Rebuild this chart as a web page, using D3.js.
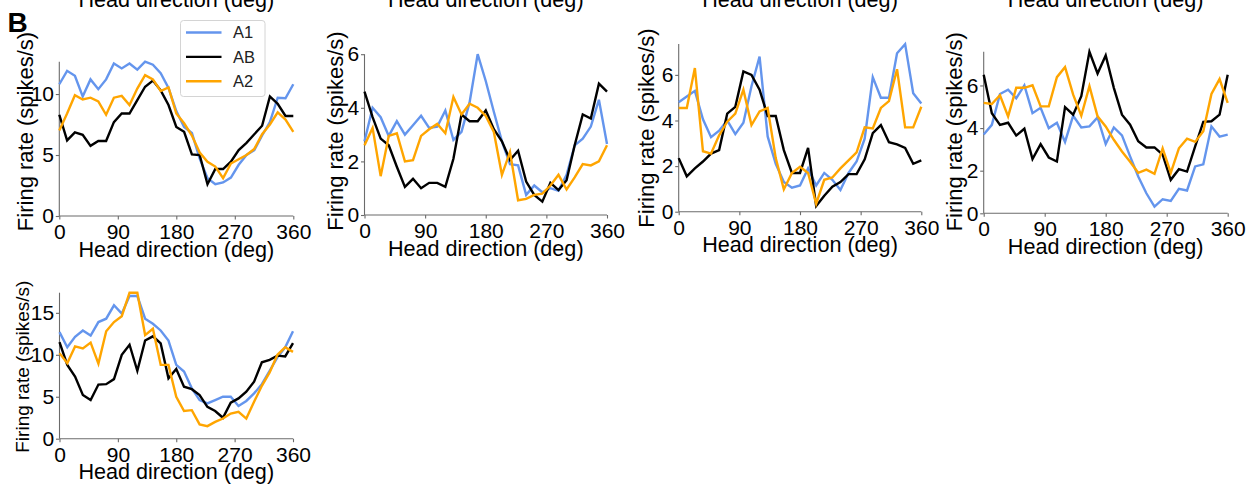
<!DOCTYPE html>
<html>
<head>
<meta charset="utf-8">
<script src="https://cdn.jsdelivr.net/npm/d3@7"></script>
<style>
  html, body { margin: 0; padding: 0; background: #fff; }
  svg { display: block; }
  text { font-family: "Liberation Sans", Arial, Helvetica, sans-serif; fill: #000; }
</style>
</head>
<body>
<svg id="fig" width="1251" height="487"></svg>
<script>
// Head-direction bins (deg) shared by every tuning curve
const headDirection = [0, 12, 24, 36, 48, 60, 72, 84, 96, 108, 120, 132, 144, 156, 168, 180,
  192, 204, 216, 228, 240, 252, 264, 276, 288, 300, 312, 324, 336, 348, 360];
const xTicks = [0, 90, 180, 270, 360];

const seriesNames = ["A1", "AB", "A2"];
const seriesColors = ["#6495ed", "#000000", "#ffa500"];

// Cell 1 firing rates (spikes/s)
const cell1A1 = [10.8, 11.9, 11.5, 9.8, 11.2, 10.4, 11.2, 12.5, 12.1, 12.5, 12.0, 12.65, 12.4, 11.7, 10.5, 8.6,
  7.3, 6.8, 4.7, 3.1, 2.6, 2.75, 3.15, 4.2, 5.0, 5.4, 6.6, 7.7, 9.7, 9.65, 10.8];
const cell1AB = [8.3, 6.2, 6.85, 6.65, 5.75, 6.15, 6.15, 7.7, 8.4, 8.4, 9.5, 10.6, 11.1, 10.3, 9.1, 7.3,
  6.9, 5.05, 5.0, 2.6, 3.85, 3.85, 4.45, 5.4, 6.0, 6.7, 7.4, 9.8, 9.2, 8.2, 8.2];
const cell1A2 = [7.0, 8.4, 9.9, 9.55, 9.7, 9.4, 8.3, 9.7, 9.85, 9.1, 10.45, 11.55, 11.2, 10.25, 10.55, 8.4,
  7.6, 6.6, 5.2, 4.45, 4.05, 3.1, 4.3, 4.65, 5.0, 5.5, 6.7, 7.5, 8.5, 7.9, 6.9];
const cell1YTicks = [0, 5, 10];

// Cell 2
const cell2A1 = [2.75, 4.0, 3.65, 2.95, 3.5, 3.0, 3.35, 3.7, 3.25, 3.3, 3.9, 2.8, 3.1, 4.2, 6.0, 5.0,
  3.85, 2.75, 1.9, 1.85, 0.75, 1.1, 0.85, 1.0, 0.9, 1.5, 2.6, 2.85, 3.3, 4.3, 2.65];
const cell2AB = [4.6, 3.65, 2.85, 2.6, 1.8, 1.05, 1.35, 1.0, 1.2, 1.2, 1.05, 2.1, 3.75, 3.5, 3.5, 3.9,
  3.2, 2.75, 2.05, 2.4, 1.25, 0.75, 0.5, 1.2, 0.93, 1.3, 2.6, 3.75, 3.6, 4.9, 4.6];
const cell2A2 = [2.6, 3.25, 1.45, 2.95, 3.05, 2.0, 2.05, 2.95, 3.2, 3.4, 3.05, 4.4, 3.75, 4.15, 4.0, 3.7,
  3.1, 1.5, 2.35, 0.55, 0.6, 0.75, 0.8, 1.1, 1.5, 0.95, 1.4, 1.9, 1.85, 2.0, 2.6];
const cell2YTicks = [0, 2, 4, 6];

// Cell 3
const cell3A1 = [4.8, 5.05, 5.3, 4.05, 3.27, 3.55, 4.0, 3.4, 3.9, 5.5, 6.8, 3.3, 2.1, 1.3, 1.05, 1.15,
  1.9, 1.15, 1.7, 1.4, 0.95, 1.7, 2.2, 3.2, 5.9, 5.0, 5.0, 6.95, 7.35, 5.2, 4.75];
const cell3AB = [2.35, 1.55, 1.9, 2.2, 2.55, 2.7, 4.3, 4.6, 6.15, 6.0, 5.35, 4.2, 4.2, 2.7, 1.7, 1.7,
  2.8, 0.25, 0.7, 1.1, 1.3, 1.65, 1.65, 2.3, 3.45, 3.8, 3.05, 2.95, 2.8, 2.1, 2.25];
const cell3A2 = [4.55, 4.55, 6.3, 2.65, 2.55, 3.35, 3.95, 4.3, 5.35, 3.8, 4.4, 4.55, 2.35, 0.98, 1.7, 1.97,
  1.7, 0.35, 1.4, 1.5, 1.9, 2.25, 2.6, 3.7, 3.65, 4.55, 4.85, 6.25, 3.7, 3.7, 4.6];
const cell3YTicks = [0, 2, 4, 6];

// Cell 4
const cell4A1 = [3.7, 4.15, 5.6, 5.8, 5.4, 6.0, 4.7, 4.95, 4.0, 4.25, 3.35, 4.58, 4.03, 4.08, 4.5, 3.25,
  4.03, 3.66, 2.67, 1.73, 0.94, 0.31, 0.66, 0.58, 1.15, 1.07, 2.2, 2.3, 4.08, 3.6, 3.69];
const cell4AB = [6.5, 4.7, 4.15, 4.25, 3.65, 3.97, 2.55, 3.25, 2.62, 2.43, 4.98, 4.63, 5.5, 7.58, 6.56, 7.41,
  5.89, 4.63, 4.16, 3.38, 3.09, 3.09, 2.75, 1.57, 2.07, 1.96, 3.14, 4.29, 4.32, 4.63, 6.5];
const cell4A2 = [5.18, 5.13, 5.54, 4.55, 5.89, 5.89, 6.01, 5.02, 5.02, 6.39, 6.86, 5.57, 4.58, 5.97, 4.55, 4.08,
  3.45, 2.9, 2.42, 1.9, 2.05, 1.85, 3.05, 1.9, 3.05, 3.5, 3.35, 3.85, 5.6, 6.3, 5.18];
const cell4YTicks = [0, 2, 4, 6];

// Cell 5
const cell5A1 = [12.7, 10.9, 12.15, 12.9, 12.3, 13.9, 14.3, 15.9, 14.9, 17.0, 17.0, 14.3, 13.7, 12.9, 11.7, 8.8,
  8.0, 6.0, 4.6, 4.2, 4.6, 5.0, 5.0, 3.9, 4.5, 5.4, 6.5, 8.1, 9.7, 10.9, 12.8];
const cell5AB = [11.5, 8.8, 7.4, 5.2, 4.6, 6.45, 6.5, 7.1, 10.0, 11.2, 8.1, 11.7, 12.2, 11.35, 7.2, 8.3,
  6.2, 5.9, 5.2, 3.8, 3.3, 2.5, 4.3, 4.8, 5.6, 6.8, 9.1, 9.4, 9.9, 9.8, 11.4];
const cell5A2 = [10.2, 9.0, 11.0, 10.75, 11.45, 8.95, 12.8, 13.9, 14.6, 17.4, 17.4, 12.35, 13.1, 8.8, 8.8, 5.0,
  3.3, 3.4, 1.7, 1.5, 2.0, 2.4, 3.0, 3.2, 2.4, 4.4, 6.3, 7.9, 10.0, 10.9, 10.35];
const cell5YTicks = [0, 5, 10, 15];

const axisLabelX = "Head direction (deg)";
const axisLabelY = "Firing rate (spikes/s)";

// Axes boxes (pixels) for the five cells; yLabelX is the baseline of the rotated label
const panels = [
  { series: [cell1A1, cell1AB, cell1A2], yTicks: cell1YTicks, x0: 59.3, x1: 293.3, top: 61.7, bottom: 216, yLabelX: 32.5, yLabelY: 131.5, yLabelFont: 22, legend: true },
  { series: [cell2A1, cell2AB, cell2A2], yTicks: cell2YTicks, x0: 364.5, x1: 607, top: 54.2, bottom: 215, yLabelX: 342.5, yLabelY: 131, yLabelFont: 22 },
  { series: [cell3A1, cell3AB, cell3A2], yTicks: cell3YTicks, x0: 678.7, x1: 921.3, top: 44.1, bottom: 211.7, yLabelX: 653.5, yLabelY: 128, yLabelFont: 22 },
  { series: [cell4A1, cell4AB, cell4A2], yTicks: cell4YTicks, x0: 983.7, x1: 1227.7, top: 51.8, bottom: 213.3, yLabelX: 962, yLabelY: 131.7, yLabelFont: 22 },
  { series: [cell5A1, cell5AB, cell5A2], yTicks: cell5YTicks, x0: 59.5, x1: 293, top: 292.7, bottom: 438.7, yLabelX: 29, yLabelY: 366.7, yLabelFont: 19 }
];

const svg = d3.select("#fig");
const spineColor = "#6b6b6b";
const tickFont = 21;

// Bottom halves of the x labels from the row above, cut by the top edge
panels.slice(0, 4).forEach(p => {
  svg.append("text")
    .attr("x", (p.x0 + p.x1) / 2)
    .attr("y", 6.5)
    .attr("text-anchor", "middle")
    .style("font-size", "21.6px")
    .text(axisLabelX);
});

panels.forEach(p => {
  const allValues = p.series.flat();
  const x = d3.scaleLinear().domain([0, 360]).range([p.x0, p.x1]);
  const y = d3.scaleLinear().domain([0, d3.max(allValues)]).range([p.bottom, p.top]);

  const g = svg.append("g");

  // spines + ticks
  const xAxis = d3.axisBottom(x).tickValues(xTicks).tickSize(3.5).tickPadding(4.5).tickFormat(d3.format("d"));
  const yAxis = d3.axisLeft(y).tickValues(p.yTicks).tickSize(3.5).tickPadding(1.8).tickFormat(d3.format("d"));

  const gx = g.append("g").attr("transform", `translate(0,${p.bottom})`).call(xAxis);
  const gy = g.append("g").attr("transform", `translate(${p.x0},0)`).call(yAxis);
  [gx, gy].forEach(a => {
    a.select(".domain").attr("stroke", spineColor).attr("stroke-width", 1.1);
    a.selectAll(".tick line").attr("stroke", spineColor).attr("stroke-width", 1.1);
    a.selectAll(".tick text").attr("fill", "#000")
      .style("font-size", tickFont + "px")
      .style("font-family", '"Liberation Sans", Arial, sans-serif');
  });
  // left spine stops at the data maximum, no end caps
  gy.select(".domain").attr("d", `M0,${y(0)}V${y.range()[1]}`);
  gx.select(".domain").attr("d", `M${x(0)},0H${x(360)}`);

  // tuning curves
  const line = d3.line().x((d, i) => x(headDirection[i])).y(d => y(d));
  p.series.forEach((s, k) => {
    g.append("path")
      .datum(s)
      .attr("fill", "none")
      .attr("stroke", seriesColors[k])
      .attr("stroke-width", 2.4)
      .attr("stroke-linejoin", "miter")
      .attr("d", line);
  });

  // axis labels
  g.append("text")
    .attr("x", (p.x0 + p.x1) / 2)
    .attr("y", p.bottom + 40.5)
    .attr("text-anchor", "middle")
    .style("font-size", "21.6px")
    .text(axisLabelX);

  g.append("text")
    .attr("transform", `translate(${p.yLabelX},${p.yLabelY}) rotate(-90)`)
    .attr("text-anchor", "middle")
    .style("font-size", p.yLabelFont + "px")
    .text(axisLabelY);

  // legend
  if (p.legend) {
    const lg = g.append("g");
    lg.append("rect")
      .attr("x", 180.5).attr("y", 20.5).attr("width", 84.5).attr("height", 76)
      .attr("rx", 3).attr("fill", "#fff").attr("fill-opacity", 0.85)
      .attr("stroke", "#d4d4d4").attr("stroke-width", 1);
    seriesNames.forEach((name, k) => {
      const ly = 32.5 + k * 24.4;
      lg.append("line").attr("x1", 186).attr("x2", 221.5).attr("y1", ly).attr("y2", ly)
        .attr("stroke", seriesColors[k]).attr("stroke-width", 2.4);
      lg.append("text").attr("x", 233).attr("y", ly).attr("dy", "0.36em")
        .style("font-size", "16.5px").style("fill", "#222").text(name);
    });
  }
});

// panel letter
svg.append("text")
  .attr("x", 7.5).attr("y", 31.5)
  .style("font-size", "28px").style("font-weight", "bold")
  .text("B");
</script>
</body>
</html>
